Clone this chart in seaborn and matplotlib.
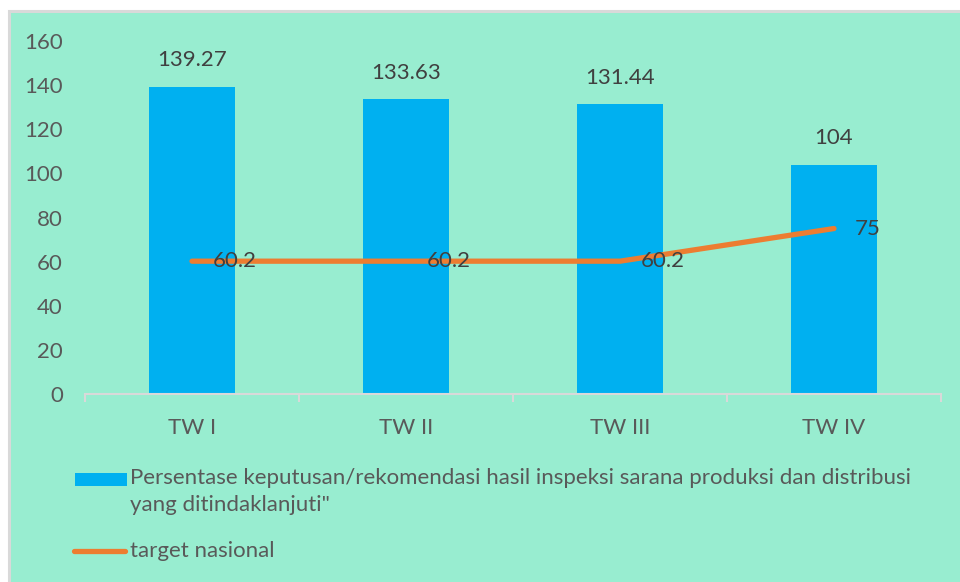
import matplotlib
matplotlib.use("Agg")
import matplotlib.pyplot as plt
from matplotlib.patches import Rectangle
from matplotlib.lines import Line2D
import seaborn as sns
import pandas as pd
import numpy as np

categories = ["TW I", "TW II", "TW III", "TW IV"]
capaian = [139.27, 133.63, 131.44, 104]
target = [60.2, 60.2, 60.2, 75]
capaian_labels = ["139.27", "133.63", "131.44", "104"]
target_labels = ["60.2", "60.2", "60.2", "75"]
legend_bar = "Persentase keputusan/rekomendasi hasil inspeksi sarana produksi dan distribusi\nyang ditindaklanjuti\""
legend_line = "target nasional"
yticks = [0, 20, 40, 60, 80, 100, 120, 140, 160]

BG = "#98EDD0"
BAR = "#00B0F0"
LINE = "#ED7D31"
TICK = "#595959"
LBL = "#404040"
AXC = "#D9D9D9"

sns.set_theme(style="white")
plt.rcParams["font.family"] = ["Lato", "DejaVu Sans"]
FS = 16

W, H = 960, 582
fig = plt.figure(figsize=(W / 100, H / 100), dpi=100, facecolor="white")
fig.patches.append(Rectangle((8.5 / W, -0.1), 1.2, 1.1 - 10.5 / H, transform=fig.transFigure,
                             facecolor=BG, edgecolor=AXC, linewidth=2.2, zorder=-5))

ax = fig.add_axes([85 / W, 1 - 394 / H, (941 - 85) / W, (394 - 41) / H])
ax.set_zorder(2)
ax.set_facecolor("none")

df = pd.DataFrame({"cat": categories, "val": capaian, "target": target, "pos": np.arange(len(categories))})

sns.barplot(data=df, x="cat", y="val", color=BAR, width=0.4, saturation=1, ax=ax, zorder=2,
            linewidth=0)
sns.lineplot(data=df, x="pos", y="target", color=LINE, linewidth=3.8, ax=ax, zorder=3,
             solid_capstyle="round", solid_joinstyle="round")

for i, (v, s) in enumerate(zip(capaian, capaian_labels)):
    ax.annotate(s, (i, v), xytext=(0, 19), textcoords="offset points", ha="center", va="center",
                fontsize=FS, color=LBL, zorder=4)
for i, (v, s) in enumerate(zip(target, target_labels)):
    ax.annotate(s, (i, v), xytext=(15, 0), textcoords="offset points", ha="left", va="center",
                fontsize=FS, color=LBL, zorder=4)

ax.set_xlim(-0.5, len(categories) - 0.5)
ax.set_ylim(0, 160)
ax.set_yticks(yticks)
ax.set_yticklabels([str(t) for t in yticks])
ax.set_xticks(range(len(categories)))
ax.set_xticklabels(categories)
ax.set_xticks(np.arange(-0.5, len(categories)), minor=True)
ax.tick_params(axis="x", which="major", bottom=False, length=0, pad=17, labelsize=FS, labelcolor=TICK)
ax.tick_params(axis="x", which="minor", bottom=True, length=6, width=1.5, color=AXC, direction="out")
ax.tick_params(axis="y", left=False, length=0, pad=16, labelsize=FS, labelcolor=TICK)
ax.set_xlabel("")
ax.set_ylabel("")
for s in ["top", "right", "left"]:
    ax.spines[s].set_visible(False)
ax.spines["bottom"].set_color(AXC)
ax.spines["bottom"].set_linewidth(1.5)
ax.grid(False)

# legend
fig.patches.append(Rectangle((75 / W, 1 - 486 / H), 52 / W, 13 / H, transform=fig.transFigure,
                             facecolor=BAR, edgecolor="none"))
fig.text(130 / W, 1 - 468 / H, legend_bar, ha="left", va="top", fontsize=FS, color=TICK,
         linespacing=1.45)
fig.lines.append(Line2D([74 / W, 125 / W], [1 - 551 / H, 1 - 551 / H], transform=fig.transFigure,
                        color=LINE, linewidth=3.8, solid_capstyle="round"))
fig.text(130 / W, 1 - 551 / H, legend_line, ha="left", va="center", fontsize=FS, color=TICK)

fig.savefig("out.png", dpi=100, facecolor="white")
